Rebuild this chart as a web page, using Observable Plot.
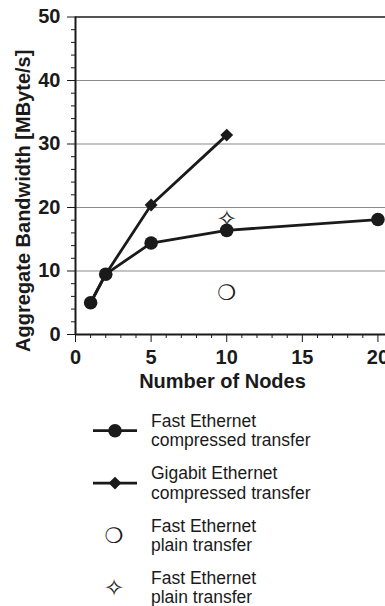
<!DOCTYPE html>
<html>
<head>
<meta charset="utf-8">
<script src="https://cdn.jsdelivr.net/npm/d3@7"></script>
<script src="https://cdn.jsdelivr.net/npm/@observablehq/plot@0.6"></script>
<style>
  html, body { margin: 0; padding: 0; background: #fff; }
  svg { display: block; }
</style>
</head>
<body>
<div id="chart"></div>
<script>
// ---- data ----
const nodesFastComp = [1, 2, 5, 10, 20];
const bwFastComp    = [5.0, 9.5, 14.4, 16.4, 18.1];
const nodesGigaComp = [1, 2, 5, 10];
const bwGigaComp    = [5.0, 9.5, 20.4, 31.4];
const nodesFastPlainA = [10];
const bwFastPlainA    = [6.5];
const nodesFastPlainB = [10];
const bwFastPlainB    = [18.2];

const xMajorTicks = [0, 5, 10, 15, 20];
const xMinorTicks = d3.range(0, 21, 1).filter(d => d % 5 !== 0);
const yMajorTicks = [0, 10, 20, 30, 40, 50];
const yMinorTicks = d3.range(0, 51, 2).filter(d => d % 10 !== 0);
const gridValues  = [10, 20, 30, 40];
const topValue    = [50];

const xLabel = "Number of Nodes";
const yLabel = "Aggregate Bandwidth [MByte/s]";
const legendLabels = [
  ["Fast Ethernet", "compressed transfer"],
  ["Gigabit Ethernet", "compressed transfer"],
  ["Fast Ethernet", "plain transfer"],
  ["Fast Ethernet", "plain transfer"]
];
const plainSymbols = ["❍", "✧"];

const fastComp = nodesFastComp.map((x, i) => ({x, y: bwFastComp[i]}));
const gigaComp = nodesGigaComp.map((x, i) => ({x, y: bwGigaComp[i]}));
const plainA = nodesFastPlainA.map((x, i) => ({x, y: bwFastPlainA[i]}));
const plainB = nodesFastPlainB.map((x, i) => ({x, y: bwFastPlainB[i]}));

const ink = "#1a1a1a";
const fontMain = "'Liberation Sans', Arial, Helvetica, sans-serif";
const symFont = "'DejaVu Sans', sans-serif";
const circleSize = 21;
const starSize = 24;

const plot = Plot.plot({
  width: 385,
  height: 400,
  marginLeft: 75,
  marginRight: 0,
  marginTop: 16.5,
  marginBottom: 66,
  style: {fontFamily: fontMain, background: "white", color: ink, overflow: "visible"},
  x: {domain: [0, 20.5]},
  y: {domain: [0, 50]},
  marks: [
    Plot.ruleY(gridValues, {stroke: "#8a8a8a", strokeWidth: 1.2}),
    Plot.ruleY(topValue, {stroke: ink, strokeWidth: 1.6}),
    Plot.axisY({ticks: yMinorTicks, tickSize: 4, tickFormat: () => "", label: null, stroke: ink}),
    Plot.axisY({ticks: yMajorTicks, tickSize: 8, tickPadding: 7, tickFormat: d => String(d),
      label: null, fontSize: 20, fontWeight: "bold", fill: ink, stroke: ink}),
    Plot.axisX({ticks: xMinorTicks, tickSize: 4, tickFormat: () => "", label: null, stroke: ink}),
    Plot.axisX({ticks: xMajorTicks, tickSize: 8, tickPadding: 7, tickFormat: d => String(d),
      label: null, fontSize: 20, fontWeight: "bold", fill: ink, stroke: ink}),
    Plot.ruleY([0], {stroke: ink, strokeWidth: 2}),
    Plot.ruleX([0], {stroke: ink, strokeWidth: 2}),
    Plot.text([xLabel], {frameAnchor: "bottom", lineAnchor: "middle", textAnchor: "middle",
      dy: 47, dx: -8, fontSize: 20, fontWeight: "bold", fill: ink}),
    Plot.text([yLabel], {frameAnchor: "left", lineAnchor: "middle", textAnchor: "middle",
      rotate: -90, dx: -51.5, dy: 25, fontSize: 20, fontWeight: "bold", fill: ink}),
    Plot.line(gigaComp, {x: "x", y: "y", stroke: ink, strokeWidth: 2.8}),
    Plot.line(fastComp, {x: "x", y: "y", stroke: ink, strokeWidth: 2.8}),
    Plot.dot(gigaComp.slice(2), {x: "x", y: "y", symbol: "diamond2", r: 5.8, fill: ink, stroke: "none"}),
    Plot.dot(fastComp, {x: "x", y: "y", r: 6.8, fill: ink, stroke: "none"}),
    Plot.text(plainA, {x: "x", y: "y", text: () => plainSymbols[0], fontSize: circleSize, fontFamily: symFont, fill: ink}),
    Plot.text(plainB, {x: "x", y: "y", text: () => plainSymbols[1], fontSize: starSize, fontFamily: symFont, fill: ink})
  ]
});
document.getElementById("chart").appendChild(plot);

// ---- legend below the plot ----
const leg = d3.create("svg").attr("width", 385).attr("height", 206)
  .style("font-family", fontMain);
legendLabels.forEach((lines, i) => {
  const base = 26.7 + 52.4 * i;
  const cy = base + 4;
  const g = leg.append("g");
  lines.forEach((t, j) => {
    g.append("text").attr("x", 151).attr("y", base + 19.5 * j)
      .attr("font-size", 17.5).attr("fill", ink).text(t);
  });
  if (i === 0 || i === 1) {
    g.append("line").attr("x1", 93).attr("x2", 137).attr("y1", cy).attr("y2", cy)
      .attr("stroke", ink).attr("stroke-width", 2.8);
  }
  if (i === 0) {
    g.append("circle").attr("cx", 115).attr("cy", cy).attr("r", 6.8).attr("fill", ink);
  } else if (i === 1) {
    g.append("path").attr("transform", `translate(115,${cy})`)
      .attr("d", d3.symbol(d3.symbolDiamond2, Math.PI * 5.8 * 5.8)()).attr("fill", ink);
  } else {
    g.append("text").attr("x", 114).attr("y", cy).attr("text-anchor", "middle")
      .attr("dominant-baseline", "central")
      .attr("font-family", symFont).attr("font-size", i === 2 ? circleSize : starSize).attr("fill", ink)
      .text(plainSymbols[i - 2]);
  }
});
document.getElementById("chart").appendChild(leg.node());
</script>
</body>
</html>
